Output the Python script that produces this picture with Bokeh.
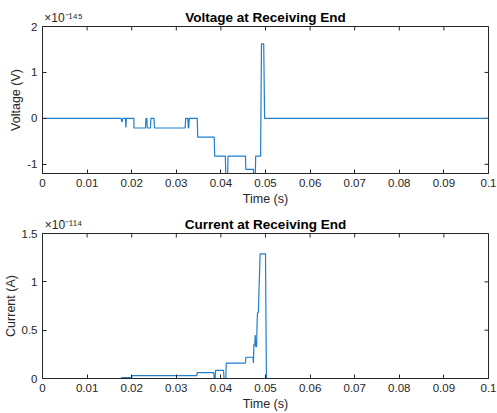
from bokeh.plotting import figure
from bokeh.models import FixedTicker, Range1d, LinearAxis
from bokeh.layouts import column
from bokeh.embed import file_html
from bokeh.resources import INLINE

# ---------------- data ----------------
time_ticks = [0, 0.01, 0.02, 0.03, 0.04, 0.05, 0.06, 0.07, 0.08, 0.09, 0.1]
time_tick_labels = ["0", "0.01", "0.02", "0.03", "0.04", "0.05", "0.06", "0.07", "0.08", "0.09", "0.1"]

volt_ticks = [-1, 0, 1, 2]
volt_tick_labels = ["-1", "0", "1", "2"]
curr_ticks = [0, 0.5, 1, 1.5]
curr_tick_labels = ["0", "0.5", "1", "1.5"]

volt_exponent = "×10⁻¹⁴⁵"
curr_exponent = "×10⁻¹¹⁴"

# Voltage at receiving end (x 1e-145 V)
volt_t = [0.0, 0.0176, 0.0178, 0.0180, 0.0186, 0.0187, 0.0188, 0.0205, 0.0205, 0.0231,
          0.0232, 0.0234, 0.0235, 0.0242, 0.0243, 0.0250, 0.0251, 0.0320, 0.0321, 0.0326,
          0.0327, 0.0328, 0.0329, 0.0347, 0.0348, 0.0385, 0.0386, 0.0410, 0.0411, 0.0415,
          0.0416, 0.0455, 0.0456, 0.0473, 0.0474, 0.0477, 0.0478, 0.0489, 0.0491, 0.0496,
          0.0498, 0.1000]
volt_v = [0.0, 0.0, -0.08, 0.0, 0.0, -0.2, 0.0, 0.0, -0.21, -0.21,
          0.0, 0.0, -0.21, -0.21, 0.0, 0.0, -0.21, -0.21, 0.0, 0.0,
          -0.21, -0.21, 0.0, 0.0, -0.41, -0.41, -0.82, -0.82, -1.3, -1.3,
          -0.82, -0.82, -1.11, -1.11, -1.3, -1.3, -0.82, -0.82, 1.62, 1.62,
          0.0, 0.0]

# Current at receiving end (x 1e-114 A)
curr_t = [0.0, 0.0176, 0.0178, 0.0200, 0.0201, 0.0346, 0.0347, 0.0384, 0.0385, 0.0387,
          0.0388, 0.0406, 0.0407, 0.0411, 0.0412, 0.0455, 0.0456, 0.0472, 0.0473, 0.0474,
          0.0476, 0.0477, 0.0478, 0.0480, 0.0481, 0.0482, 0.0484, 0.0486, 0.0488, 0.0500,
          0.0502, 0.1000]
curr_i = [0.0, 0.0, 0.01, 0.01, 0.03, 0.03, 0.06, 0.06, 0.0, 0.0,
          0.085, 0.085, 0.0, 0.0, 0.16, 0.16, 0.22, 0.22, 0.16, 0.35,
          0.35, 0.45, 0.33, 0.33, 0.55, 0.68, 0.68, 1.0, 1.29, 1.29,
          0.0, 0.0]

# ---------------- style ----------------
FONT = "Liberation Sans"
AX = "#262626"
LINE = "#1f7fcc"
FRAME_W = 446
TICK_LEN = 4
EXP_POS = 0.0047   # horizontal anchor (data x) of the exponent note


def make_fig(title, ylabel, yticks, ylabels, yrange, xs, ys, exponent,
             frame_h, top, bottom):
    xr = (0, 0.1)
    p = figure(frame_width=FRAME_W, frame_height=frame_h, title=None,
               min_border_left=42, min_border_right=9,
               min_border_top=top, min_border_bottom=bottom,
               x_range=Range1d(*xr), y_range=Range1d(*yrange),
               output_backend="svg", toolbar_location=None,
               background_fill_color="white", border_fill_color="white")
    p.grid.visible = False
    p.outline_line_color = AX
    p.outline_line_width = 1

    for ax in p.xaxis:
        ax.ticker = FixedTicker(ticks=time_ticks)
        ax.major_label_overrides = dict(zip(time_ticks, time_tick_labels))
        ax.axis_label = "Time (s)"
        ax.axis_label_standoff = 2
        ax.major_label_standoff = 5
    for ax in p.yaxis:
        ax.ticker = FixedTicker(ticks=yticks)
        ax.major_label_overrides = dict(zip(yticks, ylabels))
        ax.axis_label = ylabel
        ax.axis_label_standoff = 1
        ax.major_label_standoff = 5
    for ax in list(p.xaxis) + list(p.yaxis):
        ax.major_tick_in = TICK_LEN
        ax.major_tick_out = 0
        ax.minor_tick_line_color = None
        ax.axis_line_color = AX
        ax.major_tick_line_color = AX
        ax.major_label_text_font = FONT
        ax.major_label_text_font_size = "11.5px"
        ax.major_label_text_color = AX
        ax.axis_label_text_font = FONT
        ax.axis_label_text_font_size = "12.5px"
        ax.axis_label_text_font_style = "normal"
        ax.axis_label_text_color = AX

    # top strip: exponent note (as tick label) and bold title (as axis label)
    top_ax = LinearAxis(ticker=FixedTicker(ticks=[EXP_POS]),
                        major_label_overrides={EXP_POS: exponent},
                        major_tick_line_color=None, minor_tick_line_color=None,
                        axis_line_color=None,
                        major_tick_in=0, major_tick_out=0,
                        major_label_standoff=2,
                        major_label_text_font=FONT,
                        major_label_text_font_size="12px",
                        major_label_text_color=AX,
                        axis_label=title,
                        axis_label_standoff=-17,
                        axis_label_text_font=FONT,
                        axis_label_text_font_size="13.5px",
                        axis_label_text_font_style="bold",
                        axis_label_text_color="black")
    p.add_layout(top_ax, "above")

    # mirrored (inward) tick marks on the top and right edges of the box
    dy = TICK_LEN * (yrange[1] - yrange[0]) / frame_h
    dx = TICK_LEN * (xr[1] - xr[0]) / FRAME_W
    p.segment(x0=time_ticks, y0=[yrange[1]] * len(time_ticks),
              x1=time_ticks, y1=[yrange[1] - dy] * len(time_ticks),
              line_color=AX, line_width=1)
    p.segment(x0=[xr[1]] * len(yticks), y0=yticks,
              x1=[xr[1] - dx] * len(yticks), y1=yticks,
              line_color=AX, line_width=1)

    p.line(xs, ys, line_color=LINE, line_width=1.2)
    return p


p1 = make_fig("Voltage at Receiving End", "Voltage (V)", volt_ticks, volt_tick_labels,
              (-1.2, 2), volt_t, volt_v, volt_exponent, 147, 26, 35)
p2 = make_fig("Current at Receiving End", "Current (A)", curr_ticks, curr_tick_labels,
              (0, 1.5), curr_t, curr_i, curr_exponent, 145, 25, 35)

layout = column(p1, p2, spacing=0)
open("out.html", "w").write(file_html(layout, INLINE))
